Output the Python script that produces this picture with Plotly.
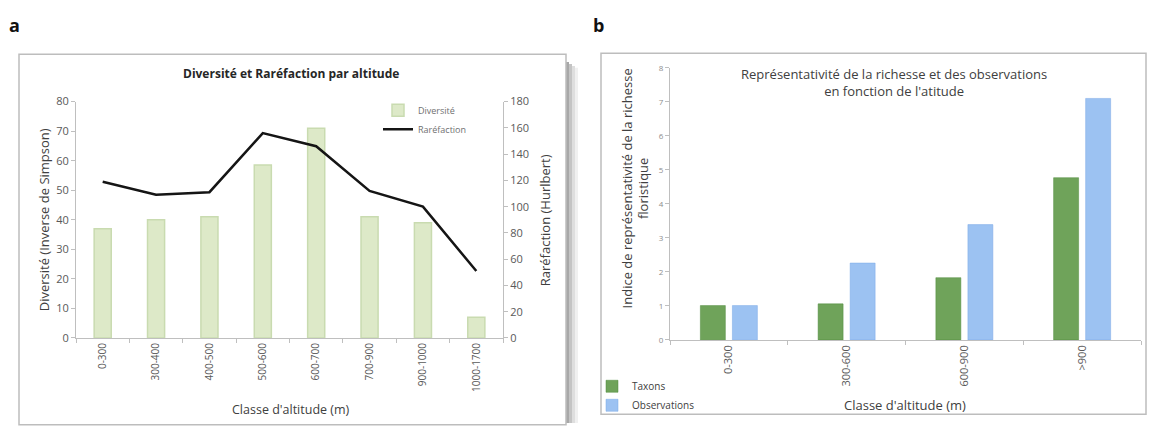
import plotly.graph_objects as go

W, H = 1149, 427

# ---- Panel a data ----
classes_a = ["0-300", "300-400", "400-500", "500-600", "600-700", "700-900", "900-1000", "1000-1700"]
diversite = [37, 40, 41, 58.5, 71, 41, 39, 7]
rarefaction = [119, 109, 111, 156, 146, 112, 100, 51]

# ---- Panel b data ----
classes_b = ["0-300", "300-600", "600-900", ">900"]
taxons = [1.01, 1.06, 1.83, 4.77]
observations = [1.01, 2.26, 3.39, 7.1]

FONT = "Open Sans"
TICK = "#595959"
TXT = "#404040"


def px(x):
    return x / W


def py(y):
    return 1 - y / H


fig = go.Figure()

fig.add_trace(go.Bar(
    x=classes_a, y=diversite, name="Diversité", width=0.32,
    marker=dict(color="#dde9c8", line=dict(color="#c9dbb0", width=1.5)),
    xaxis="x", yaxis="y", legend="legend",
))
fig.add_trace(go.Scatter(
    x=classes_a, y=rarefaction, name="Raréfaction", mode="lines",
    line=dict(color="#151515", width=2.5),
    xaxis="x", yaxis="y3", legend="legend",
))
fig.add_trace(go.Bar(
    x=classes_b, y=taxons, name="Taxons",
    marker=dict(color="#6fa35a", line=dict(color="#4f8a3c", width=0.5)),
    xaxis="x2", yaxis="y2", legend="legend2",
))
fig.add_trace(go.Bar(
    x=classes_b, y=observations, name="Observations",
    marker=dict(color="#9cc2f2", line=dict(color="#7aa9e6", width=0.5)),
    xaxis="x2", yaxis="y2", legend="legend2",
))

axis_common = dict(showgrid=False, zeroline=False, showline=True, linecolor="#bfbfbf",
                   linewidth=1, ticks="outside", tickcolor="#bfbfbf", ticklen=4)

fig.update_layout(
    width=W, height=H, margin=dict(l=0, r=0, t=0, b=0),
    paper_bgcolor="white", plot_bgcolor="rgba(0,0,0,0)",
    font=dict(family=FONT, color=TXT),
    barmode="group", bargap=0.456, bargroupgap=0.22,
    xaxis=dict(domain=[px(76), px(503)], anchor="y", tickangle=-90, tickson="boundaries",
               tickfont=dict(size=10, color=TICK), **axis_common),
    yaxis=dict(domain=[py(342), py(97)], anchor="x", range=[0, 80], dtick=10,
               tickfont=dict(size=11, color=TICK), **axis_common),
    yaxis3=dict(overlaying="y", side="right", anchor="x", range=[0, 180], dtick=20,
                tickfont=dict(size=11, color=TICK), **axis_common),
    xaxis2=dict(domain=[px(670), px(1141)], anchor="y2", tickangle=-90, tickson="boundaries",
                tickfont=dict(size=11, color=TICK), **axis_common),
    yaxis2=dict(domain=[py(344), py(62)], anchor="x2", range=[0, 8], dtick=1,
                tickfont=dict(size=8, color="#8c8c8c"), **axis_common),
    legend=dict(x=px(378), y=py(91), xanchor="left", yanchor="top",
                font=dict(size=9, color="#707070"), bgcolor="rgba(0,0,0,0)",
                tracegroupgap=2, itemwidth=30),
    legend2=dict(x=px(592), y=py(377), xanchor="left", yanchor="top",
                 font=dict(size=10, color=TXT), bgcolor="rgba(0,0,0,0)",
                 itemwidth=30),
)

shapes = [
    # panel a shadow and frame
    dict(type="rect", xref="paper", yref="paper", x0=px(566), x1=px(569), y0=py(430), y1=py(56),
         fillcolor="#a8a8a8", line=dict(width=0), layer="below"),
    dict(type="rect", xref="paper", yref="paper", x0=px(569), x1=px(572), y0=py(430), y1=py(58),
         fillcolor="#c4c4c4", line=dict(width=0), layer="below"),
    dict(type="rect", xref="paper", yref="paper", x0=px(572), x1=px(575), y0=py(430), y1=py(60),
         fillcolor="#dedede", line=dict(width=0), layer="below"),
    dict(type="rect", xref="paper", yref="paper", x0=px(575), x1=px(578), y0=py(430), y1=py(62),
         fillcolor="#f0f0f0", line=dict(width=0), layer="below"),
    dict(type="rect", xref="paper", yref="paper", x0=px(19), x1=px(566), y0=py(432), y1=py(48),
         fillcolor="white", line=dict(color="#bdbdbd", width=1.5), layer="below"),
    # panel b frame
    dict(type="rect", xref="paper", yref="paper", x0=px(601), x1=px(1146), y0=py(421), y1=py(47),
         fillcolor="white", line=dict(color="#bdbdbd", width=1.5), layer="below"),
]

annotations = [
    dict(text="<b>a</b>", x=px(14), y=py(18), font=dict(size=18, color="#111", family=FONT)),
    dict(text="<b>b</b>", x=px(598), y=py(18), font=dict(size=18, color="#111", family=FONT)),
    dict(text="<b>Diversité et Raréfaction par altitude</b>", x=px(291), y=py(68),
         font=dict(size=12, color="#262626")),
    dict(text="Diversité (Inverse de Simpson)", x=px(44), y=py(220), textangle=-90,
         font=dict(size=13, color=TXT)),
    dict(text="Raréfaction (Hurlbert)", x=px(545), y=py(220), textangle=-90,
         font=dict(size=13, color=TXT)),
    dict(text="Classe d'altitude (m)", x=px(291), y=py(416), font=dict(size=12.5, color=TXT)),
    dict(text="Représentativité de la richesse et des observations<br>en fonction de l'atitude",
         x=px(894), y=py(77), font=dict(size=13, color=TXT)),
    dict(text="Indice de représentativité de la richesse<br>floristique", x=px(635), y=py(187),
         textangle=-90, font=dict(size=13, color=TXT)),
    dict(text="Classe d'altitude (m)", x=px(905), y=py(411), font=dict(size=13, color=TXT)),
]
for a in annotations:
    a.update(xref="paper", yref="paper", showarrow=False, xanchor="center", yanchor="middle")

fig.update_layout(shapes=shapes, annotations=annotations)

fig.write_html("out.html")
